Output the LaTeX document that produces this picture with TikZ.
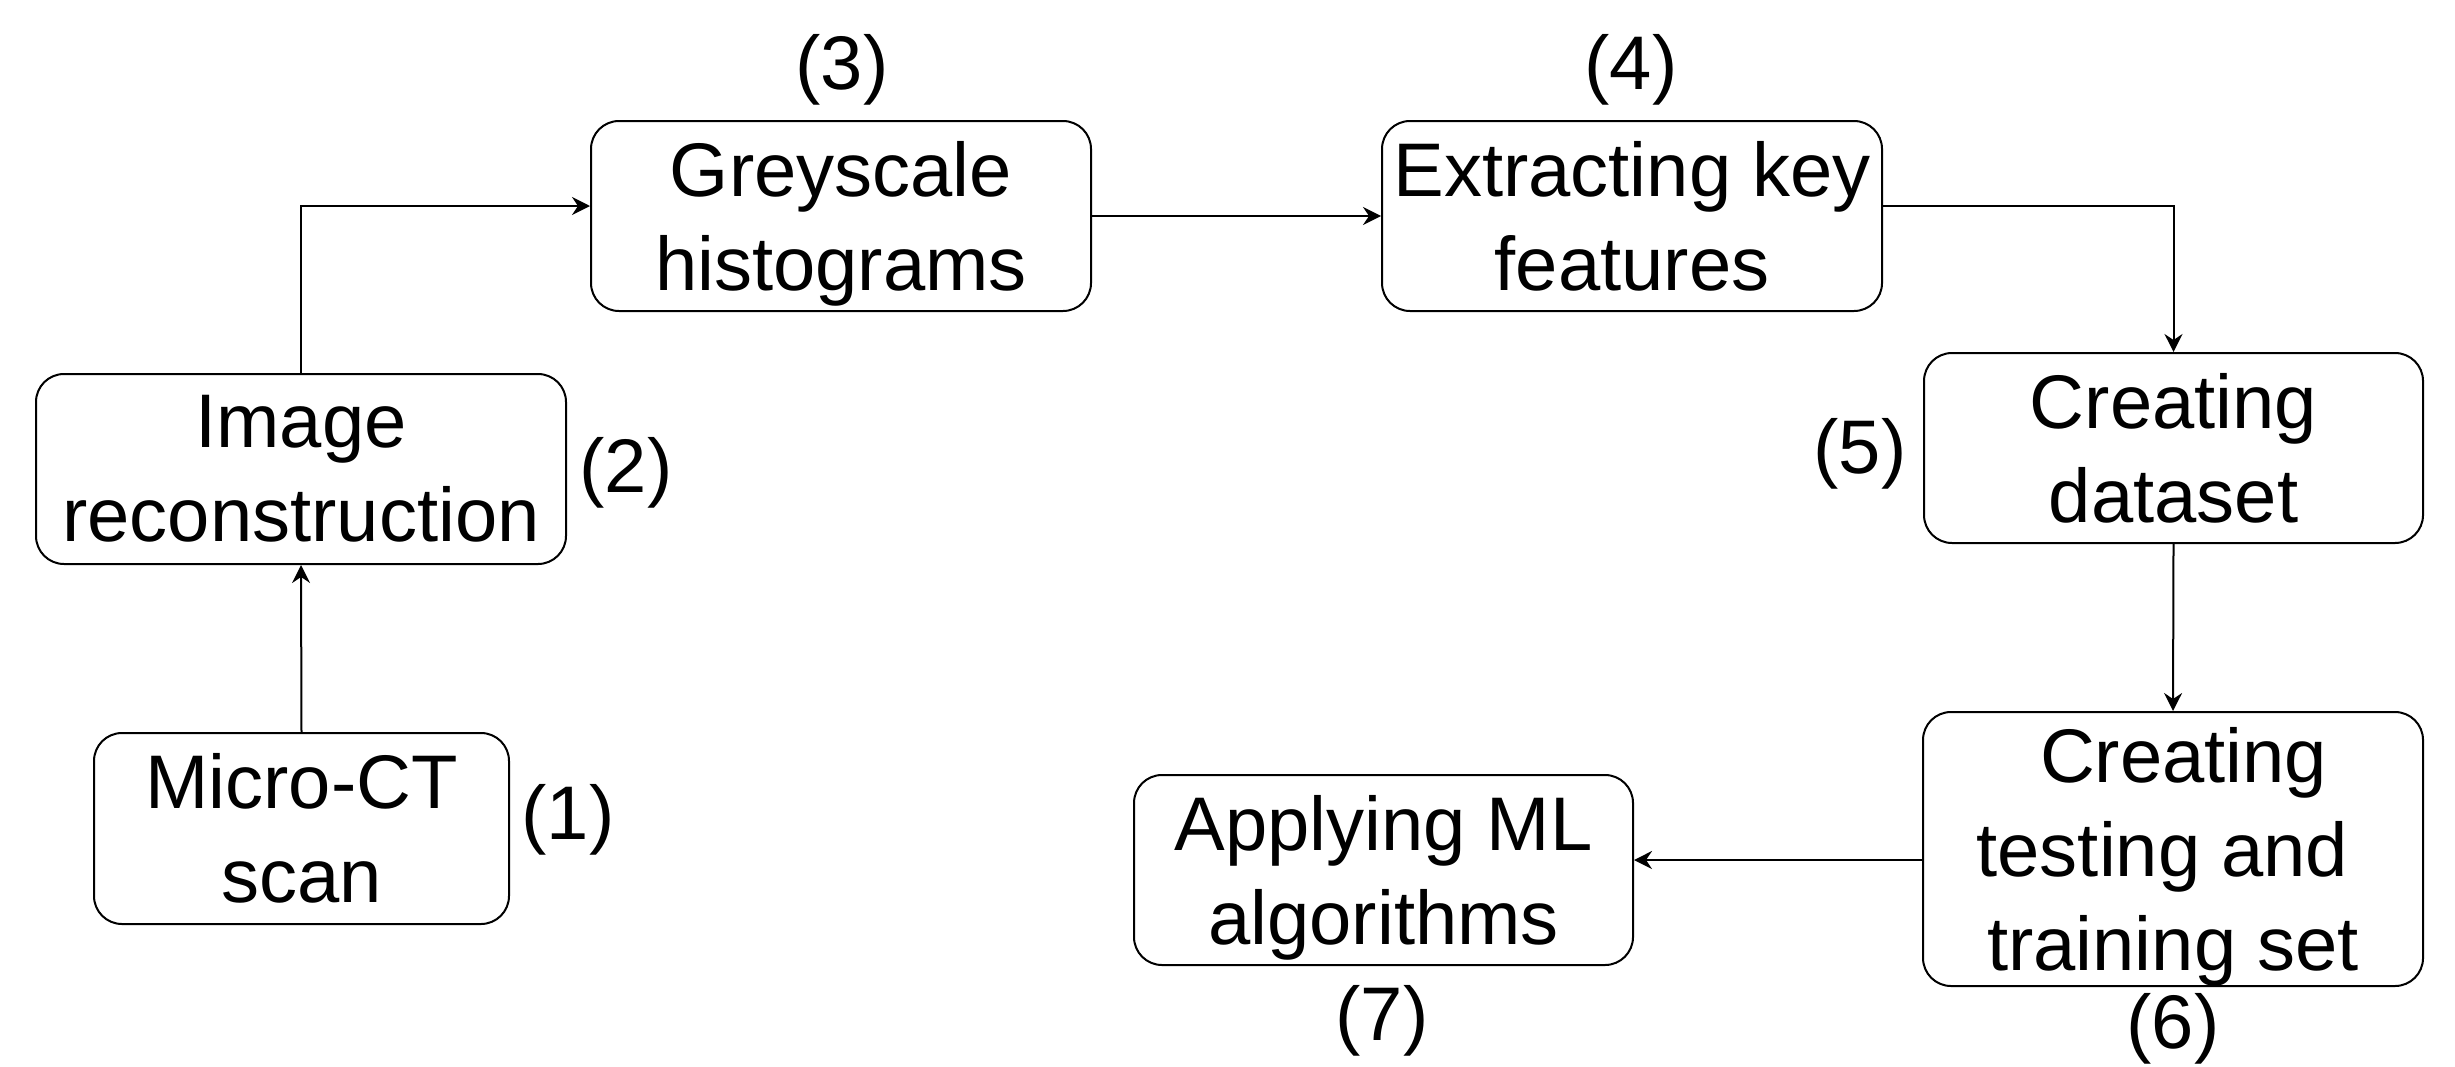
\documentclass[tikz,border=0pt]{standalone}
\usepackage{fontspec}
\setmainfont{Liberation Sans}
\usetikzlibrary{arrows.meta}
\newcommand\nodesc[1]{\raisebox{0pt}[\height][0pt]{#1}}
\begin{document}
\begin{tikzpicture}[x=0.5pt,y=-0.5pt,
  box/.style={draw=black, line width=1pt, rounded corners=14pt, fill=white,
    align=center, inner sep=0pt, font=\fontsize{38pt}{47pt}\selectfont},
  num/.style={inner sep=0pt, font=\fontsize{38pt}{47pt}\selectfont},
  arr/.style={draw=black, line width=1pt, -{Stealth[length=9pt,width=9pt,inset=3pt]}}]
\fill[white] (0,0) rectangle (2455,1066);
\useasboundingbox (0,0) rectangle (2455,1066);
\node[box, minimum width=207.5pt, minimum height=95.5pt] (n1) at (301.5,828.5) {Micro-CT\\scan};
\node[box, minimum width=265pt, minimum height=95pt] (n2) at (301,469) {Image\\reconstruction};
\node[box, minimum width=250pt, minimum height=95pt] (n3) at (841,216) {Greyscale\\\nodesc{histograms}};
\node[box, minimum width=250pt, minimum height=95pt] (n4) at (1632,216) {Extracting key\\features};
\node[box, minimum width=249.5pt, minimum height=95pt] (n5) at (2173.5,448) {Creating\\dataset};
\node[box, minimum width=250pt, minimum height=137pt] (n6) at (2173,849) {\hspace*{10.6pt}Creating\\\makebox[0pt][l]{}testing and\hbox to 10.6pt{}\\\nodesc{training set}};
\node[box, minimum width=249.5pt, minimum height=95pt] (n7) at (1383.5,870) {Applying ML\\\nodesc{algorithms}};
\node[num] (l1) at (568,820) {(1)};
\node[num] (l2) at (626,473) {(2)};
\node[num] (l3) at (842,70) {(3)};
\node[num] (l4) at (1631,70) {(4)};
\node[num] (l5) at (1860,454) {(5)};
\node[num] (l6) at (2173,1029) {(6)};
\node[num] (l7) at (1382,1021) {(7)};
\draw[arr] (n1.north) -- (n2.south);
\draw[arr] (n2.north) |- ([yshift=5pt]n3.west);
\draw[arr] (n3.east) -- (n4.west);
\draw[arr] ([yshift=5pt]n4.east) -| (n5.north);
\draw[arr] (n5.south) -- (n6.north);
\draw[arr] ([yshift=-5.5pt]n6.west) -- ([yshift=5pt]n7.east);
\end{tikzpicture}
\end{document}
